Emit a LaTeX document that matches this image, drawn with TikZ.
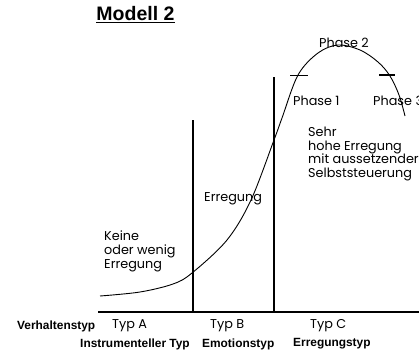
\documentclass[tikz,border=0pt]{standalone}
\usepackage{fontspec}
\setmainfont{Liberation Sans}
\newfontfamily\thinfont{Poppins}
\begin{document}
\begin{tikzpicture}[x=1pt,y=-1pt,
  thin text/.style={font=\thinfont\fontsize{12.8}{13.6}\selectfont, inner sep=0pt, anchor=west, align=left},
  bold text/.style={font=\bfseries\fontsize{11.9}{13}\selectfont, inner sep=0pt, anchor=west},
  heavy/.style={line width=1.6pt},
  curveline/.style={line width=0.9pt}]
\useasboundingbox (0,0) rectangle (419,353);
% title
\node[font=\bfseries\fontsize{19.5}{22}\selectfont, inner sep=0pt] (title) at (135.5,15) {\underline{Modell 2}};
% axis and dividers
\coordinate (ax0) at (98,312);
\coordinate (ax1) at (419,312);
\coordinate (v1t) at (192.7,120);
\coordinate (v1b) at (192.7,312);
\coordinate (v2t) at (274,77);
\coordinate (v2b) at (274,312);
\draw[heavy] (ax0) -- (ax1);
\draw[heavy] (v1t) -- (v1b);
\draw[heavy] (v2t) -- (v2b);
% curve
\draw[curveline] plot[smooth, tension=0.55] coordinates {
  (100,296) (140,292) (173,284) (192,273) (227,240) (251,200) (274,140) (282,118)
  (298,75) (318,53) (338,45) (360,50) (378,62) (390,76) (399,95) (405,116)};
% phase ticks
\coordinate (t1a) at (290,75.5);
\coordinate (t1b) at (308,75.5);
\coordinate (t2a) at (379,75);
\coordinate (t2b) at (395,75);
\draw[heavy] (t1a) -- (t1b);
\draw[line width=1.1pt] (t2a) -- (t2b);
% phase labels
\node[thin text] (p2) at (319,43) {Phase 2};
\node[thin text] (p1) at (293,101) {Phase 1};
\node[thin text] (p3) at (373,101) {Phase 3};
% region texts
\node[thin text, anchor=north west] (sehr) at (308,127) {Sehr\\hohe Erregung\\mit aussetzender\\Selbststeuerung};
\node[thin text] (erreg) at (204,199) {Erregung};
\node[thin text, anchor=north west] (keine) at (104,231) {Keine\\oder wenig\\Erregung};
% bottom labels
\node[bold text] (vt) at (17,326) {Verhaltenstyp};
\node[thin text] (ta) at (112,326) {Typ A};
\node[thin text] (tb) at (210,326) {Typ B};
\node[thin text] (tc) at (310,326) {Typ C};
\node[bold text] (it) at (80,344) {Instrumenteller Typ};
\node[bold text] (et) at (202,344) {Emotionstyp};
\node[bold text] (rt) at (293,344) {Erregungstyp};
\end{tikzpicture}
\end{document}
